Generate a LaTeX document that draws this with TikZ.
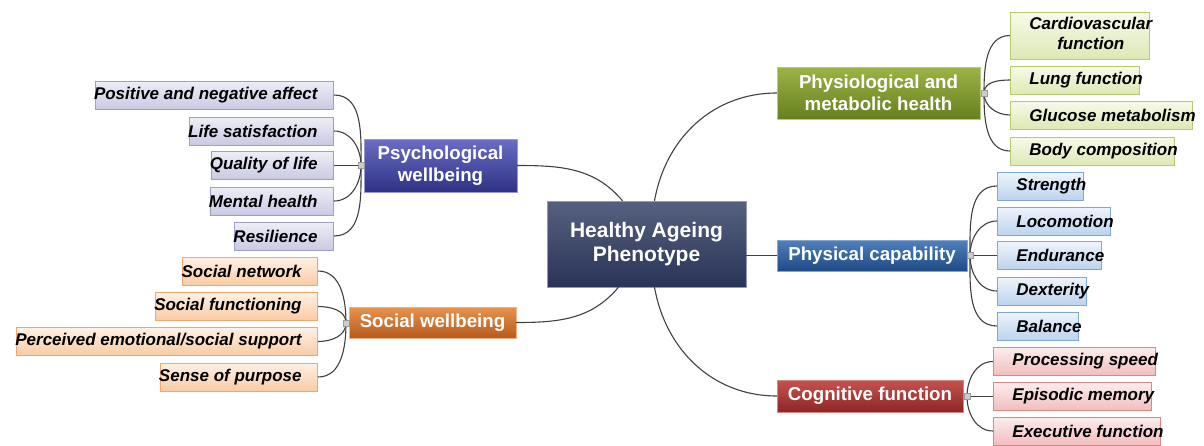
\documentclass[tikz,border=0pt]{standalone}
\usepackage{fontspec}
\setmainfont{Liberation Sans}
\usepackage{tikz}
\usetikzlibrary{positioning}
\definecolor{CoreTop}{HTML}{56617F}
\definecolor{CoreBot}{HTML}{2A3457}
\definecolor{CoreLine}{HTML}{8C9BB8}
\definecolor{PsyTop}{HTML}{6A6EC4}
\definecolor{PsyBot}{HTML}{2E3184}
\definecolor{SocTop}{HTML}{E8934E}
\definecolor{SocBot}{HTML}{B65A1C}
\definecolor{MetTop}{HTML}{9CB346}
\definecolor{MetBot}{HTML}{66801E}
\definecolor{CapTop}{HTML}{4F81BD}
\definecolor{CapBot}{HTML}{1F4A86}
\definecolor{CogTop}{HTML}{C55350}
\definecolor{CogBot}{HTML}{8E2624}
\definecolor{PsyLeafTop}{HTML}{EEEEF7}
\definecolor{PsyLeafBot}{HTML}{C9C9E3}
\definecolor{PsyLeafLine}{HTML}{9E9ECB}
\definecolor{SocLeafTop}{HTML}{FEF1E6}
\definecolor{SocLeafBot}{HTML}{F9CBA3}
\definecolor{SocLeafLine}{HTML}{F2A66A}
\definecolor{MetLeafTop}{HTML}{F7FAEA}
\definecolor{MetLeafBot}{HTML}{DDE8B4}
\definecolor{MetLeafLine}{HTML}{B7CB6E}
\definecolor{CapLeafTop}{HTML}{EEF4FB}
\definecolor{CapLeafBot}{HTML}{BCD3EE}
\definecolor{CapLeafLine}{HTML}{7FA7D7}
\definecolor{CogLeafTop}{HTML}{FCEDED}
\definecolor{CogLeafBot}{HTML}{F2BDBD}
\definecolor{CogLeafLine}{HTML}{DE8585}
\definecolor{Twig}{HTML}{404040}
\newcommand{\lfleaf}[1]{\kern-1pt#1\kern16pt}
\newcommand{\rtleaf}[1]{\kern19pt#1\kern-3pt}

\begin{document}
\begin{tikzpicture}[x=1pt, y=1pt,
                    core/.style={draw=CoreLine, top color=CoreTop, bottom color=CoreBot,
                                 text=white, font=\fontsize{21}{24}\selectfont\bfseries,
                                 align=center, inner sep=0pt, minimum width=199pt, minimum height=86pt},
                    branch/.style={text=white, font=\fontsize{18.7}{21.5}\selectfont\bfseries,
                                   align=center, inner sep=0pt},
                    psyfill/.style={draw=PsyTop!70!white, top color=PsyTop, bottom color=PsyBot},
                    socfill/.style={draw=SocTop!70!white, top color=SocTop, bottom color=SocBot},
                    metfill/.style={draw=MetTop!70!white, top color=MetTop, bottom color=MetBot},
                    capfill/.style={draw=CapTop!70!white, top color=CapTop, bottom color=CapBot},
                    cogfill/.style={draw=CogTop!70!white, top color=CogTop, bottom color=CogBot},
                    leaf/.style={font=\fontsize{17}{20.5}\selectfont\bfseries\itshape,
                                 inner xsep=0pt, inner ysep=3pt, minimum height=28pt, line width=0.8pt},
                    psyleaf/.style={leaf, draw=PsyLeafLine, top color=PsyLeafTop, bottom color=PsyLeafBot, anchor=east},
                    socleaf/.style={leaf, draw=SocLeafLine, top color=SocLeafTop, bottom color=SocLeafBot, anchor=east},
                    metleaf/.style={leaf, draw=MetLeafLine, top color=MetLeafTop, bottom color=MetLeafBot, anchor=west},
                    capleaf/.style={leaf, draw=CapLeafLine, top color=CapLeafTop, bottom color=CapLeafBot, anchor=west},
                    cogleaf/.style={leaf, draw=CogLeafLine, top color=CogLeafTop, bottom color=CogLeafBot, anchor=west},
                    twig/.style={draw=Twig, line width=1.1pt},
                    knob/.style={draw=gray!80, fill=gray!40, minimum size=6pt, inner sep=0pt}]
\useasboundingbox (0,0) rectangle (1204,-445);
% centre and branches
\node[core] (core) at (646.5,-244) {Healthy Ageing\\Phenotype};
\node[branch, psyfill, minimum width=153pt, minimum height=53pt] (psych) at (440.5,-165.5) {Psychological\\wellbeing};
\node[branch, socfill, minimum width=167pt, minimum height=31pt] (social) at (432.5,-322.5) {Social wellbeing};
\node[branch, metfill, minimum width=203pt, minimum height=52pt] (metab) at (878.5,-93) {Physiological and\\metabolic health};
\node[branch, capfill, minimum width=190pt, minimum height=31pt] (capab) at (872,-255.5) {Physical capability};
\node[branch, cogfill, minimum width=186pt, minimum height=32pt] (cognit) at (870,-396) {Cognitive function};
% hubs
\coordinate (psyhub) at (361,-165.5);
\coordinate (sochub) at (346,-323);
\coordinate (methub) at (984,-93);
\coordinate (caphub) at (970,-255.5);
\coordinate (coghub) at (967,-396.5);
% psychological leaves
\node[psyleaf] (affect) at (334,-95) {\lfleaf{Positive and negative affect}};
\node[psyleaf] (lifesat) at (334,-131) {\lfleaf{Life satisfaction}};
\node[psyleaf] (quality) at (334,-165.5) {\lfleaf{Quality of life}};
\node[psyleaf] (mental) at (334,-201) {\lfleaf{Mental health}};
\node[psyleaf] (resil) at (334,-236) {\lfleaf{Resilience}};
% social leaves
\node[socleaf] (network) at (318,-271) {\lfleaf{Social network}};
\node[socleaf] (functioning) at (318,-306.5) {\lfleaf{Social functioning}};
\node[socleaf] (support) at (318,-341.5) {\lfleaf{Perceived emotional/social support}};
\node[socleaf] (purpose) at (318,-377) {\lfleaf{Sense of purpose}};
% metabolic leaves
\node[metleaf] (cardio) at (1010,-35.5) {\rtleaf{\begin{tabular}{@{}c@{}}Cardiovascular\\function\end{tabular}}};
\node[metleaf] (lung) at (1010,-80) {\rtleaf{Lung function}};
\node[metleaf] (glucose) at (1010,-115) {\rtleaf{Glucose metabolism}};
\node[metleaf] (bodycomp) at (1010,-151) {\rtleaf{Body composition}};
% capability leaves
\node[capleaf] (strength) at (997,-186) {\rtleaf{Strength}};
\node[capleaf] (locomotion) at (997,-221) {\rtleaf{Locomotion}};
\node[capleaf] (endurance) at (997,-255.5) {\rtleaf{Endurance}};
\node[capleaf] (dexterity) at (997,-291) {\rtleaf{Dexterity}};
\node[capleaf] (balance) at (997,-326) {\rtleaf{Balance}};
% cognitive leaves
\node[cogleaf] (speed) at (993,-361.5) {\rtleaf{Processing speed}};
\node[cogleaf] (memory) at (993,-396.5) {\rtleaf{Episodic memory}};
\node[cogleaf] (executive) at (993,-431) {\rtleaf{Executive function}};
% centre to branches
\draw[twig] (psych.east) to[out=0, in=130] ([xshift=-24pt]core.north);
\draw[twig] (social.east) to[out=0, in=230] ([xshift=-28pt]core.south);
\draw[twig] ([xshift=8pt]core.north) to[out=80, in=180] (metab.west);
\draw[twig] (core.east |- capab.west) -- (capab.west);
\draw[twig] ([xshift=8pt]core.south) to[out=-80, in=180] (cognit.west);
% branches to leaves
\draw[twig] (affect.east) to[out=0, in=90] (psyhub);
\draw[twig] (lifesat.east) to[out=0, in=90] (psyhub);
\draw[twig] (quality.east) -- (psyhub);
\draw[twig] (mental.east) to[out=0, in=270] (psyhub);
\draw[twig] (resil.east) to[out=0, in=270] (psyhub);
\draw[twig] (network.east) to[out=0, in=90] (sochub);
\draw[twig] (functioning.east) to[out=0, in=90] (sochub);
\draw[twig] (support.east) to[out=0, in=270] (sochub);
\draw[twig] (purpose.east) to[out=0, in=270] (sochub);
\draw[twig] (methub) to[out=90, in=180] (cardio.west);
\draw[twig] (methub) to[out=90, in=180] (lung.west);
\draw[twig] (methub) to[out=270, in=180] (glucose.west);
\draw[twig] (methub) to[out=270, in=180] (bodycomp.west);
\draw[twig] (caphub) to[out=90, in=180] (strength.west);
\draw[twig] (caphub) to[out=90, in=180] (locomotion.west);
\draw[twig] (caphub) -- (endurance.west);
\draw[twig] (caphub) to[out=270, in=180] (dexterity.west);
\draw[twig] (caphub) to[out=270, in=180] (balance.west);
\draw[twig] (coghub) to[out=90, in=180] (speed.west);
\draw[twig] (coghub) -- (memory.west);
\draw[twig] (coghub) to[out=270, in=180] (executive.west);
% collapse knobs
\node[knob] at (psyhub) {};
\node[knob] at (sochub) {};
\node[knob] at (methub) {};
\node[knob] at (caphub) {};
\node[knob] at (coghub) {};
\end{tikzpicture}
\end{document}
